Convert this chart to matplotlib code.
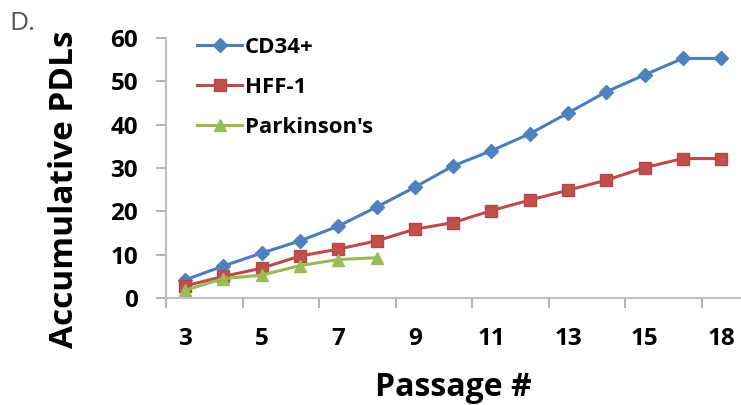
import matplotlib.pyplot as plt
import numpy as np

# Datos
passages = [3, 4, 5, 6, 7, 8, 9, 10, 11, 12, 13, 14, 15, 16, 18]
cd34 = [4.2, 7.4, 10.4, 13.2, 16.6, 21.0, 25.6, 30.5, 34.0, 37.9, 42.7, 47.6, 51.5, 55.3, 55.3]
hff1 = [2.8, 5.0, 6.9, 9.7, 11.3, 13.2, 15.9, 17.4, 20.2, 22.6, 24.9, 27.2, 30.1, 32.2, 32.2]
parkinsons = [1.8, 4.5, 5.3, 7.5, 8.9, 9.3]

series_names = ["CD34+", "HFF-1", "Parkinson's"]

plt.rcParams['font.family'] = ['Open Sans', 'DejaVu Sans']

fig = plt.figure(figsize=(7.41, 4.05), dpi=100)
ax = fig.add_axes([0.224, 0.264, 0.775, 0.642])

x = np.arange(len(passages))
ax.plot(x, cd34, color='#4a7ebb', lw=2.2, marker='D', ms=7.5,
        mfc='#4f81bd', mec='#4f81bd', label=series_names[0])
ax.plot(x, hff1, color='#be4b48', lw=2.2, marker='s', ms=9,
        mfc='#c0504d', mec='#b04a47', label=series_names[1])
ax.plot(x[:len(parkinsons)], parkinsons, color='#98b954', lw=2.2, marker='^', ms=9,
        mfc='#9bbb59', mec='#9bbb59', label=series_names[2])

ax.set_xlim(-0.5, len(passages) - 0.5)
ax.set_ylim(0, 60)

# Etiquetas cada dos categorias, marcas en los limites (estilo Excel)
ax.set_xticks(x[::2])
ax.set_xticklabels([str(p) for p in passages[::2]])
ax.set_xticks(np.arange(-0.5, len(passages) - 1, 2), minor=True)
ax.tick_params(axis='x', which='major', length=0, pad=21, labelsize=17.5)
ax.tick_params(axis='x', which='minor', length=7, color='#a6a6a6', width=1.2)
ax.set_yticks(range(0, 61, 10))
ax.tick_params(axis='y', length=7, color='#a6a6a6', width=1.2, labelsize=17.5, pad=13)
for lab in ax.get_xticklabels() + ax.get_yticklabels():
    lab.set_fontweight('bold')

for side in ['top', 'right']:
    ax.spines[side].set_visible(False)
for side in ['left', 'bottom']:
    ax.spines[side].set_color('#bfbfbf')
    ax.spines[side].set_linewidth(1.5)

ax.set_xlabel("Passage #", fontsize=23, fontweight='bold', labelpad=14)
ax.set_ylabel("Accumulative PDLs", fontsize=24, fontweight='bold')
ax.yaxis.set_label_coords(-0.148, 0.42)

ax.legend(loc='upper left', bbox_to_anchor=(0.02, 1.08), frameon=False,
          prop={'weight': 'bold', 'size': 16}, handlelength=2.0,
          handletextpad=0.12, labelspacing=0.85)

fig.text(0.012, 0.925, "D.", fontsize=19, color='#555555')

fig.savefig("out.png", dpi=100)
